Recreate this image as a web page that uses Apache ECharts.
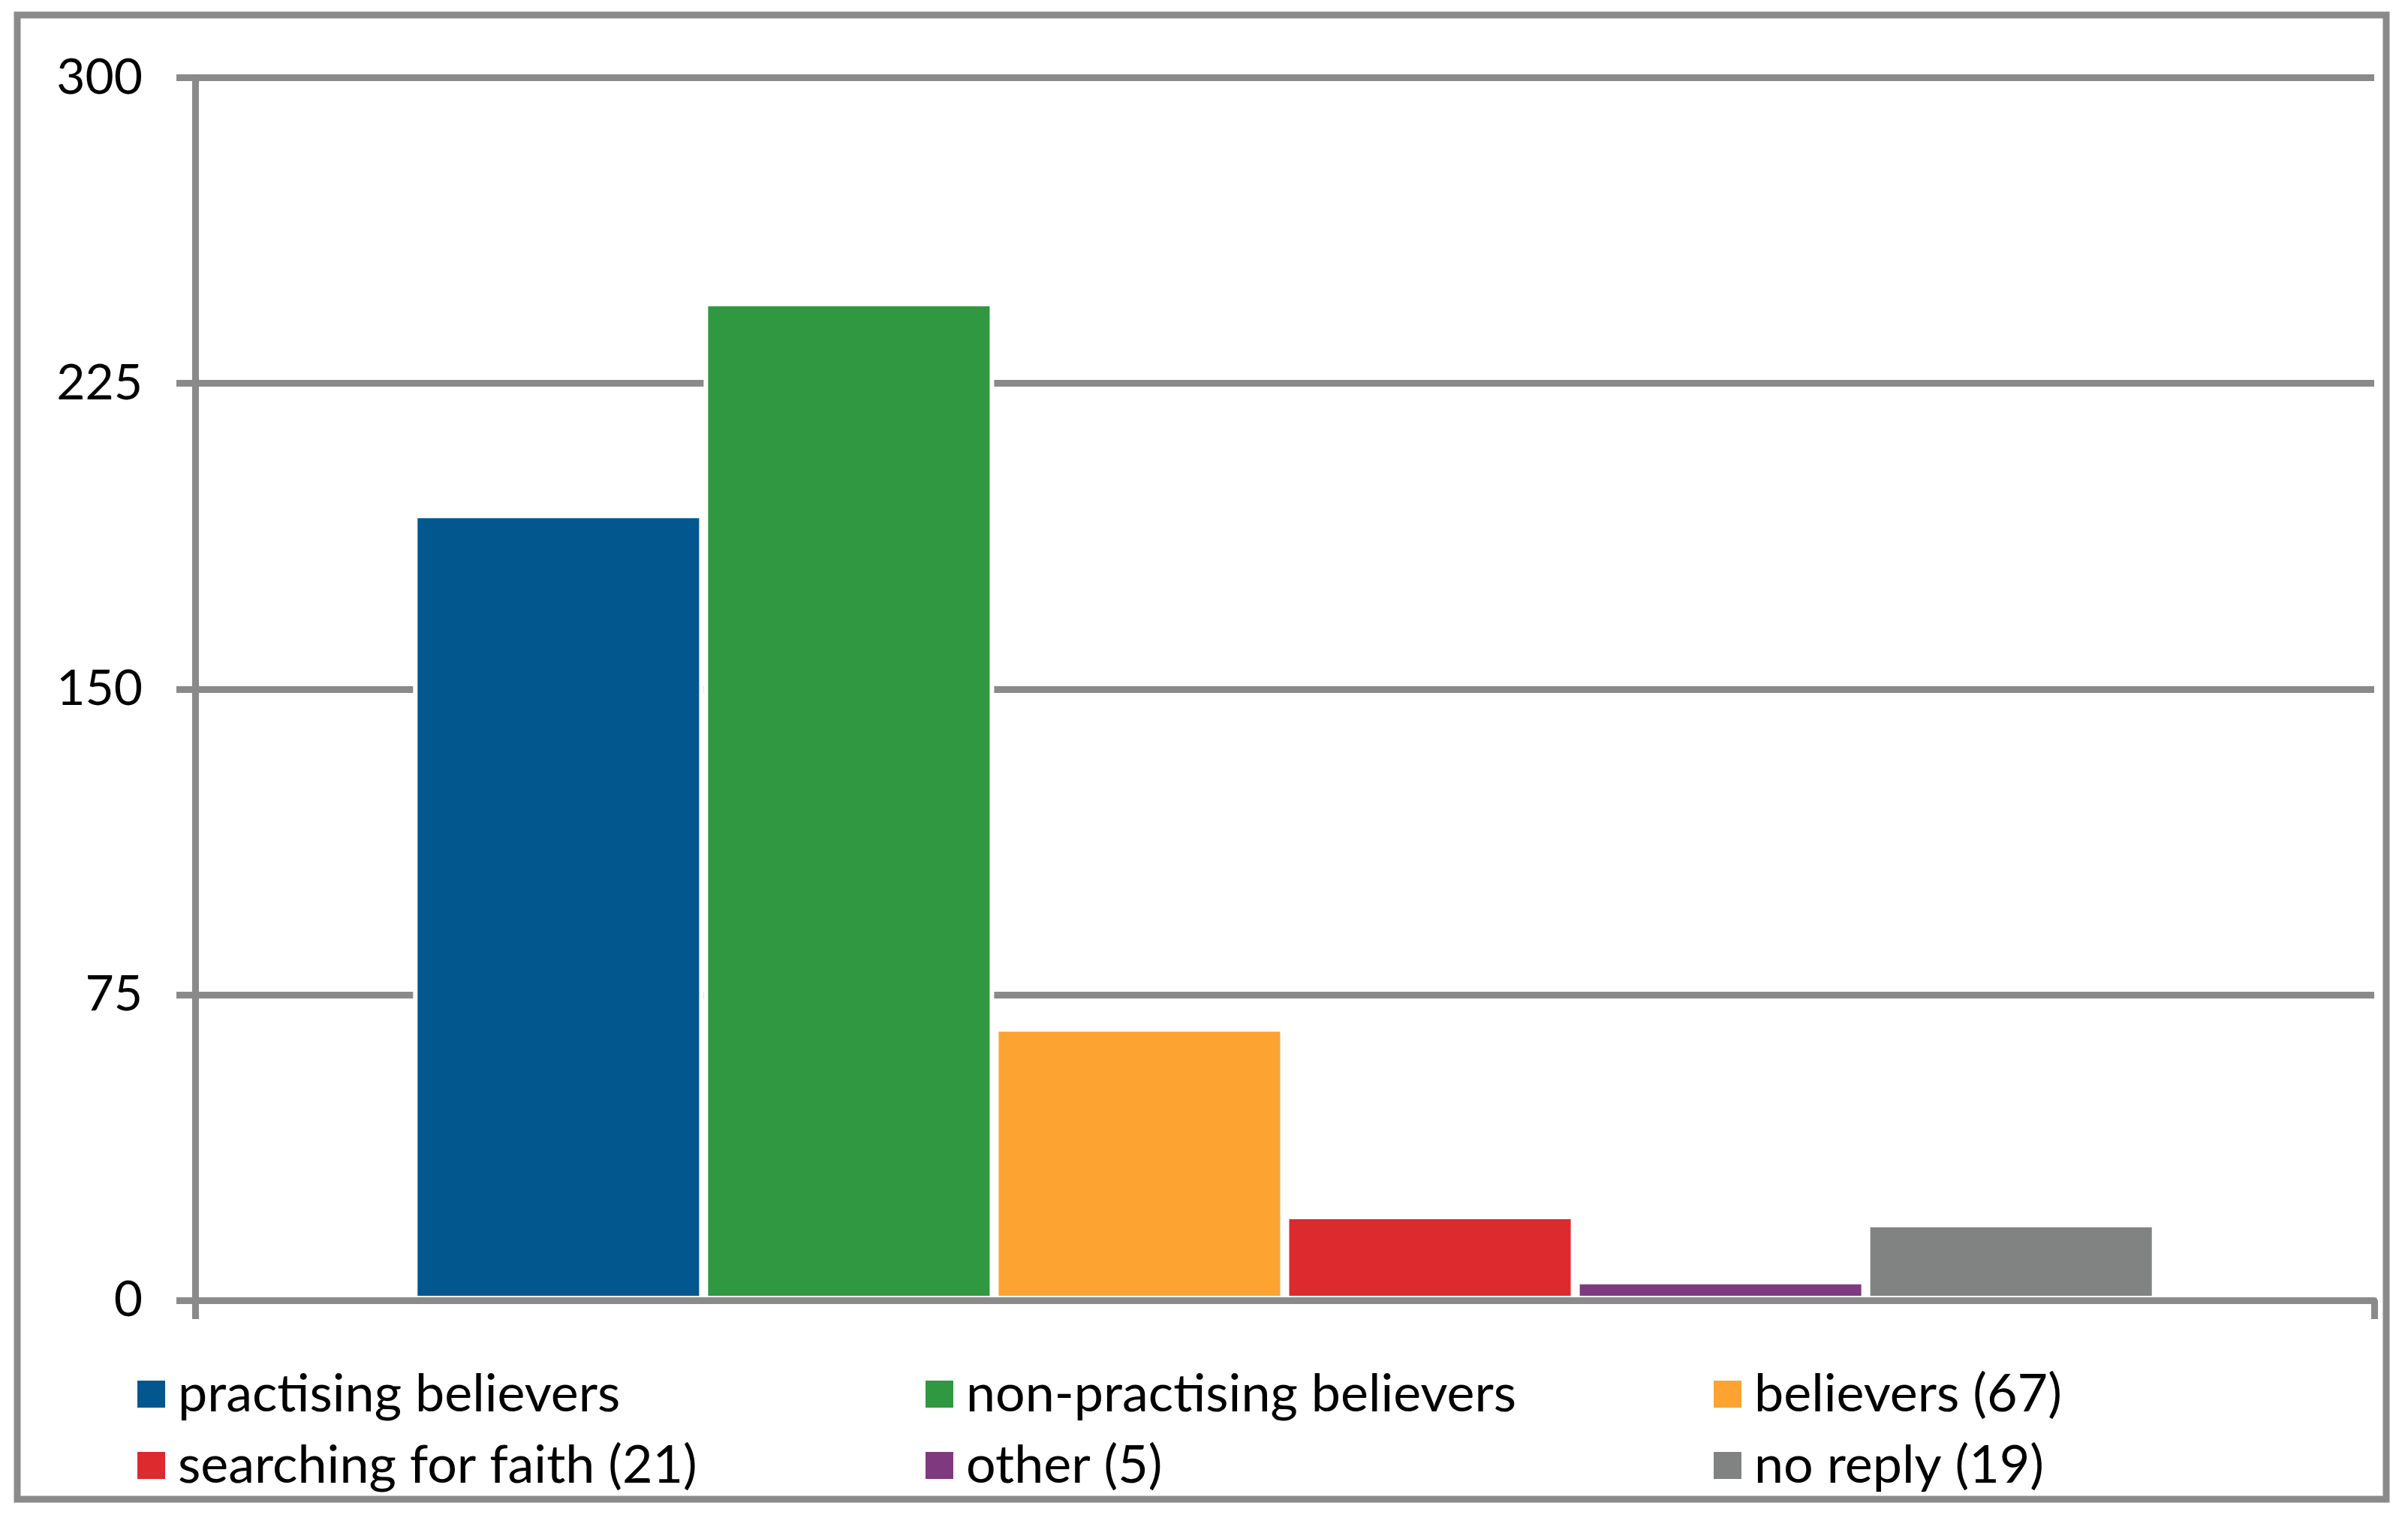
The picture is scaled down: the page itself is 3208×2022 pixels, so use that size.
<!DOCTYPE html>
<html>
<head>
<meta charset="utf-8">
<script src="https://cdn.jsdelivr.net/npm/echarts@6/dist/echarts.min.js"></script>
<style>
html,body{margin:0;padding:0;background:#fff;}
#chart{width:3208px;height:2022px;}
</style>
</head>
<body>
<div id="chart"></div>
<script>
const categories = [''];
const seriesNames = ['practising believers','non-practising believers','believers (67)','searching for faith (21)','other (5)','no reply (19)'];
const seriesValues = [193, 245, 67, 21, 5, 19];
const seriesColors = ['#02578e','#2f9840','#fca332','#dc2a2e','#7f3a7f','#808382'];
const yTicks = [0, 75, 150, 225, 300];

const gray = '#8a8a8a';
const font = 'Lato, "Open Sans", sans-serif';

const chart = echarts.init(document.getElementById('chart'), null, {renderer:'canvas'});

const series = seriesNames.map((n,i)=>({
  name:n, type:'bar', data:[seriesValues[i]],
  barGap:'0%', barCategoryGap:'20%',
  itemStyle:{color:seriesColors[i], borderColor:'#fff', borderWidth:6},
  emphasis:{disabled:true},
  silent:true
}));

function legendCol(names, left){
  return {
    data:names.map(n=>({name:n, icon:'rect'})),
    orient:'vertical', left:left, top:1812,
    itemWidth:37, itemHeight:36, itemGap:15,
    selectedMode:false,
    itemStyle:{borderWidth:0},
    textStyle:{fontFamily:font, fontSize:70, color:'#000', lineHeight:80, padding:[0,0,0,12]}
  };
}

chart.setOption({
  animation:false,
  backgroundColor:'#fff',
  graphic:[{
    type:'rect', shape:{x:23, y:20, width:3156, height:1977},
    style:{fill:'none', stroke:gray, lineWidth:9}, silent:true, z:-1
  }],
  grid:{left:260, top:103.5, right:45, bottom:290, containLabel:false},
  legend:[
    legendCol([seriesNames[0], seriesNames[3]], 178),
    legendCol([seriesNames[1], seriesNames[4]], 1228),
    legendCol([seriesNames[2], seriesNames[5]], 2278)
  ],
  xAxis:{
    type:'category', data:categories,
    axisLine:{show:true, lineStyle:{color:gray, width:9}},
    axisTick:{show:true, length:25, lineStyle:{color:gray, width:9}},
    axisLabel:{show:false},
    z:5
  },
  yAxis:{
    type:'value', min:yTicks[0], max:yTicks[yTicks.length-1], interval:75,
    axisLine:{show:true, lineStyle:{color:gray, width:9}},
    axisTick:{show:true, length:25, lineStyle:{color:gray, width:9}},
    axisLabel:{fontFamily:font, fontSize:66, color:'#000', margin:70},
    splitLine:{show:true, lineStyle:{color:gray, width:9}}
  },
  series:series
});
</script>
</body>
</html>
